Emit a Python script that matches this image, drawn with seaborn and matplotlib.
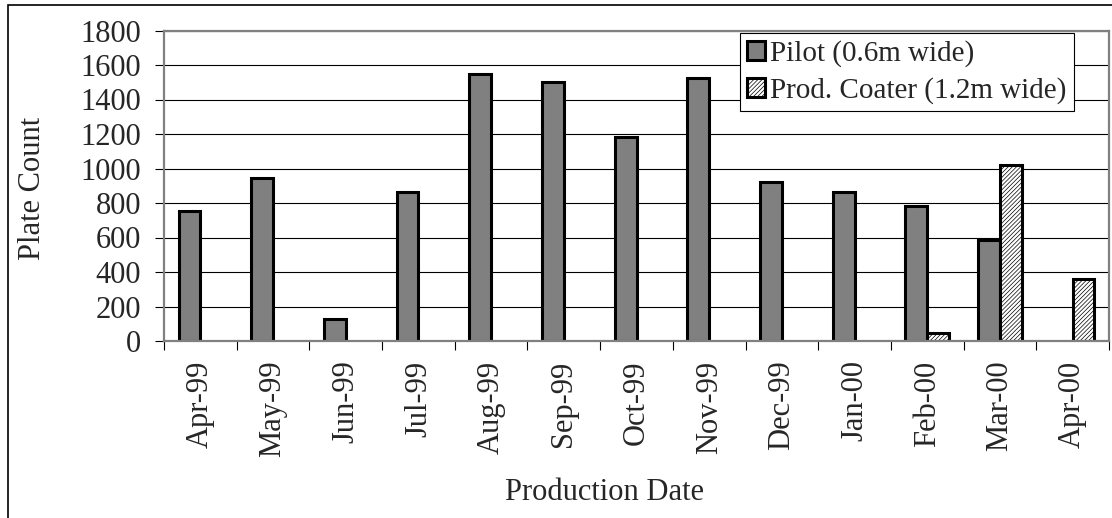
import numpy as np
import pandas as pd
import matplotlib
matplotlib.use("Agg")
import matplotlib.pyplot as plt
import seaborn as sns
from matplotlib.patches import Rectangle
from matplotlib.ticker import FixedLocator

# Monthly plate counts per coater
months = ["Apr-99", "May-99", "Jun-99", "Jul-99", "Aug-99", "Sep-99", "Oct-99",
          "Nov-99", "Dec-99", "Jan-00", "Feb-00", "Mar-00", "Apr-00"]
pilot = [755, 945, 125, 865, 1548, 1500, 1180, 1522, 920, 865, 780, 587, np.nan]
prod_coater = [np.nan] * 10 + [46, 1020, 361]
series_names = ["Pilot (0.6m wide)", "Prod. Coater (1.2m wide)"]
y_ticks = [0, 200, 400, 600, 800, 1000, 1200, 1400, 1600, 1800]

df = pd.DataFrame({
    "month": months * 2,
    "count": pilot + prod_coater,
    "series": [series_names[0]] * len(months) + [series_names[1]] * len(months),
}).dropna()

FS = 22
LEG_FS = 21
HATCH = "////////"

sns.set_theme(style="white")
plt.rcParams["font.family"] = ["Liberation Serif", "DejaVu Serif"]
plt.rcParams["hatch.linewidth"] = 0.5
plt.rcParams["hatch.color"] = "#555555"

fig = plt.figure(figsize=(11.12, 5.18), dpi=100)
fig.patch.set_facecolor("white")
ax = fig.add_axes([164 / 1112, 1 - 341 / 518, 945 / 1112, 310.5 / 518])

sns.barplot(data=df, x="month", y="count", hue="series", order=months,
            hue_order=series_names, palette=["#808080", "white"],
            width=0.6, edgecolor="black", linewidth=2.2, saturation=1,
            ax=ax)

# Hatch the production coater bars
for patch in ax.containers[1]:
    patch.set_hatch(HATCH)

ax.set_ylim(0, 1800)
ax.set_xlim(-0.5, len(months) - 0.5)
ax.set_yticks(y_ticks)
ax.yaxis.grid(True, color="black", linewidth=0.8)
ax.set_axisbelow(True)

for side in ["left", "bottom", "top", "right"]:
    ax.spines[side].set_visible(True)
    ax.spines[side].set_color("#808080")
    ax.spines[side].set_linewidth(1.6)

ax.tick_params(axis="y", which="major", length=6.5, width=0.8, color="black",
               direction="out", left=True, labelsize=FS, pad=10)
ax.tick_params(axis="x", which="major", length=0, labelsize=FS, pad=14,
               labelrotation=90)
ax.xaxis.set_minor_locator(FixedLocator(np.arange(-0.5, len(months), 1.0)))
ax.tick_params(axis="x", which="minor", length=6.5, width=0.8, color="black",
               direction="out", bottom=True)

ax.set_ylabel("Plate Count", fontsize=FS)
ax.set_xlabel("Production Date", fontsize=FS)
ax.yaxis.set_label_coords(-0.124, 0.49)
ax.xaxis.set_label_coords(0.466, -0.44)

leg = ax.legend(loc="upper right", bbox_to_anchor=(0.963, 0.993), fontsize=LEG_FS,
                frameon=True, fancybox=False, shadow=False, framealpha=1,
                handlelength=0.6, handleheight=0.6, handletextpad=0.2,
                labelspacing=0.35, borderpad=0.25, borderaxespad=0)
leg.get_frame().set_edgecolor("black")
leg.get_frame().set_linewidth(0.8)
leg.legend_handles[1].set_hatch(HATCH)
for h in leg.legend_handles:
    h.set_linewidth(2.2)

# Outer chart border
fig.add_artist(Rectangle((8 / 1112, -0.1), 1.2, 1 - 5 / 518 + 0.1,
                         transform=fig.transFigure, fill=False,
                         edgecolor="black", linewidth=1.2))

fig.savefig("out.png", dpi=100)
